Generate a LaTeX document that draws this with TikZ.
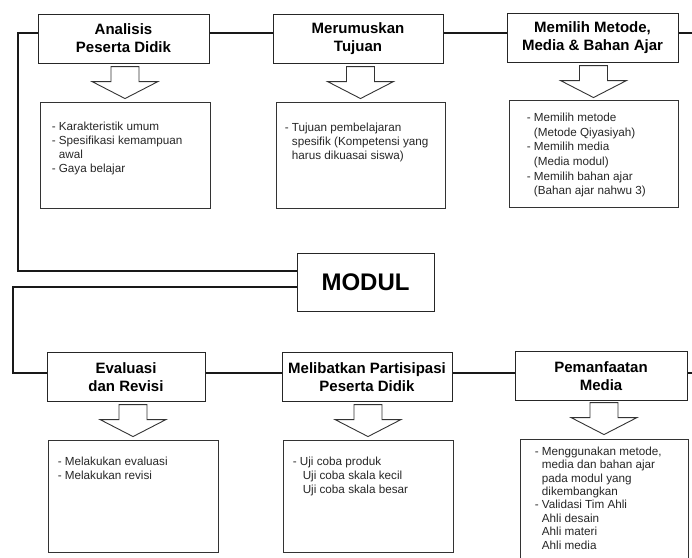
\documentclass[tikz,border=0pt]{standalone}
\usepackage{fontspec}
\setmainfont{Liberation Sans}
\usetikzlibrary{positioning}
\usetikzlibrary{calc}
\newcommand{\sisip}{\phantom{-\ }}

\tikzset{
  judul/.style={draw=black!85, line width=1pt, minimum width=171pt, minimum height=49pt, inner sep=0pt, align=center, font=\fontsize{15}{18}\selectfont\bfseries},
  isi/.style={draw=black!80, line width=0.9pt, minimum width=170pt, minimum height=106pt, inner sep=0pt},
  teks/.style={anchor=north west, inner sep=0pt, align=left, text=black!85, font=\fontsize{11.7}{14}\selectfont},
  garis/.style={line width=1.3pt, black!90},
  pics/panah/.style={code={
    \draw[line width=0.9pt, black!80] (-14,0) -- (14,0) -- (14,15) -- (33,15) -- (0,32) -- (-33,15) -- (-14,15) -- cycle;
  }}
}

\begin{document}
\begin{tikzpicture}[x=1pt, y=-1pt]
  \useasboundingbox (0,0) rectangle (692,557);
  \clip (0,0) rectangle (692,557);
  %title boxes, top row
  \node[judul] (t1) at (123.5,38.5) {Analisis\\Peserta Didik};
  \node[judul, minimum width=170pt] (t2) at (358,38.5) {Merumuskan\\Tujuan};
  \node[judul] (t3) at (592.5,37.5) {Memilih Metode,\\Media \& Bahan Ajar};
  %content boxes, top row
  \node[isi] (c1) at (125,155) {};
  \node[isi, minimum width=169pt] (c2) at (360.5,155) {};
  \node[isi, minimum width=169pt, minimum height=107pt] (c3) at (593.5,153.5) {};
  \pic at ($(c1.north)+(0,-35)$) {panah};
  \pic at ($(c2.north)+(0,-35)$) {panah};
  \pic at ($(c3.north)+(0,-34)$) {panah};
  \node[teks, below right=20.5pt and 12pt of c1.north west] (x1) {- Karakteristik umum\\- Spesifikasi kemampuan\\\sisip awal\\- Gaya belajar};
  \node[teks, below right=21pt and 9pt of c2.north west] (x2) {- Tujuan pembelajaran\\\sisip spesifik (Kompetensi yang\\\sisip harus dikuasai siswa)};
  \node[teks, below right=13.5pt and 18pt of c3.north west, font=\fontsize{11.7}{14.6}\selectfont] (x3) {- Memilih metode\\\sisip(Metode Qiyasiyah)\\- Memilih media\\\sisip(Media modul)\\- Memilih bahan ajar\\\sisip(Bahan ajar nahwu 3)};
  %module
  \node[draw=black!85, line width=1pt, minimum width=137pt, minimum height=58pt, inner sep=0pt, font=\fontsize{24}{28}\selectfont\bfseries] (modul) at (365.5,282) {MODUL};
  %title boxes, bottom row
  \node[judul, minimum width=158pt] (b1) at (126,377) {Evaluasi\\dan Revisi};
  \node[judul, minimum width=170pt] (b2) at (367,377) {Melibatkan Partisipasi\\Peserta Didik};
  \node[judul, minimum width=172pt] (b3) at (601,376) {Pemanfaatan\\Media};
  %content boxes, bottom row
  \node[isi, minimum height=112pt] (d1) at (133,496) {};
  \node[isi, minimum height=112pt] (d2) at (368,496) {};
  \node[isi, minimum width=168pt, minimum height=132pt] (d3) at (604,505) {};
  \pic at ($(d1.north)+(0,-35)$) {panah};
  \pic at ($(d2.north)+(0,-35)$) {panah};
  \pic at ($(d3.north)+(0,-36)$) {panah};
  \node[teks, below right=17pt and 10pt of d1.north west] (y1) {- Melakukan evaluasi\\- Melakukan revisi};
  \node[teks, below right=17pt and 10pt of d2.north west] (y2) {- Uji coba produk\\\hspace*{10pt}Uji coba skala kecil\\\hspace*{10pt}Uji coba skala besar};
  \node[teks, below right=8pt and 15pt of d3.north west, font=\fontsize{11.7}{13.4}\selectfont] (y3) {- Menggunakan metode,\\\sisip media dan bahan ajar\\\sisip pada modul yang\\\sisip dikembangkan\\- Validasi Tim Ahli\\\sisip Ahli desain\\\sisip Ahli materi\\\sisip Ahli media};
  %connecting lines
  \coordinate (atas) at (0,33);
  \coordinate (bawah) at (0,373);
  \coordinate (kiri1) at (18,33);
  \coordinate (kiri2) at (13,373);
  \coordinate (kanan1) at (692,33);
  \coordinate (kanan2) at (692,373);
  \draw[garis] (t1.west|-atas) -- (kiri1) |- ([yshift=11pt]modul.west);
  \draw[garis] (t1.east|-atas) -- (t2.west|-atas);
  \draw[garis] (t2.east|-atas) -- (t3.west|-atas);
  \draw[garis] (t3.east|-atas) -- (kanan1);
  \draw[garis] ([yshift=-5pt]modul.west) -| (kiri2) -- (b1.west|-bawah);
  \draw[garis] (b1.east|-bawah) -- (b2.west|-bawah);
  \draw[garis] (b2.east|-bawah) -- (b3.west|-bawah);
  \draw[garis] (b3.east|-bawah) -- (kanan2);
\end{tikzpicture}
\end{document}
